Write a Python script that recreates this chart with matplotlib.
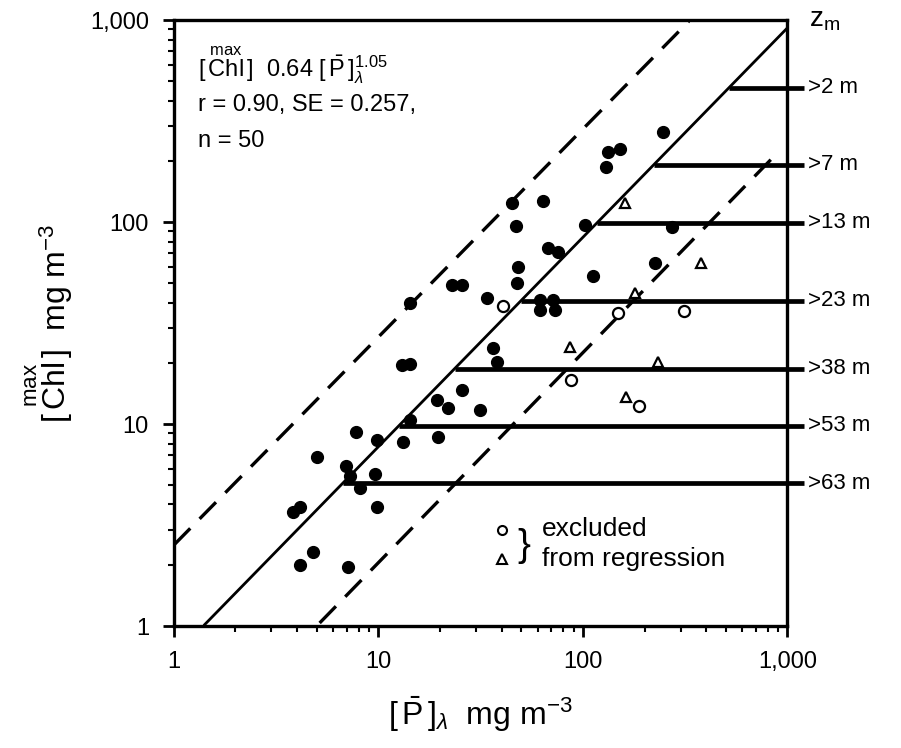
import numpy as np
import matplotlib.pyplot as plt
from matplotlib.ticker import FuncFormatter, LogLocator, NullFormatter

plt.rcParams['font.family'] = ['Liberation Sans', 'DejaVu Sans']
plt.rcParams['mathtext.fontset'] = 'custom'
plt.rcParams['mathtext.rm'] = 'Liberation Sans'
plt.rcParams['mathtext.it'] = 'Liberation Sans:italic'
plt.rcParams['mathtext.bf'] = 'Liberation Sans:bold'

# filled circles: lake data used in regression (P, Chl max), mg m-3
p_in = [3.82, 4.14, 4.14, 4.79, 5.01, 7.78, 7.11, 6.95, 7.27, 9.64, 8.13, 9.86,
        9.86, 13.2, 19.4, 21.9, 25.7, 31.5, 19.6, 13.1, 14.3, 14.3, 14.3, 245,
        133, 152, 129, 64.0, 45.1, 47.2, 67.7, 75.9, 102, 48.3, 47.7, 22.9,
        25.7, 34.0, 112, 226, 274, 61.9, 71.6, 61.9, 73.3, 36.4, 38.1]
chl_in = [3.67, 3.89, 2.01, 2.33, 6.88, 9.14, 1.96, 6.21, 5.53, 5.66, 4.83, 3.89,
          8.35, 8.16, 13.2, 12.0, 14.8, 11.8, 8.64, 19.7, 19.9, 10.5, 39.9, 281,
          223, 231, 188, 128, 125, 95.9, 74.6, 71.3, 97.1, 60.1, 50.1, 48.9,
          48.9, 42.2, 54.2, 62.9, 94.9, 41.3, 41.3, 36.8, 36.8, 23.9, 20.3]

# excluded from regression
p_circ = [40.8, 149, 313, 87.7, 187]
chl_circ = [38.5, 35.6, 36.4, 16.6, 12.3]
p_tri = [160, 376, 180, 86.7, 234, 163]
chl_tri = [125, 62.9, 44.7, 24.1, 20.3, 13.6]

# regression line and bounds as drawn: Chl = a * P^b
fit_a, fit_b = 0.71, 1.037
up_a, up_b = 2.52, 1.03
lo_a, lo_b = 0.188, 1.04

# mixing depth levels
zm_labels = ['>2 m', '>7 m', '>13 m', '>23 m', '>38 m', '>53 m', '>63 m']
zm_chl = [464, 192, 99.2, 40.9, 18.8, 9.8, 5.11]

fig = plt.figure(figsize=(9.01, 7.48), dpi=100)
ax = fig.add_axes([0.193, 0.163, 0.681, 0.810])
ax.set_xscale('log')
ax.set_yscale('log')
ax.set_xlim(1, 1000)
ax.set_ylim(1, 1000)

# regression line
p = np.logspace(0, 3, 200)
c = fit_a * p ** fit_b
m = c >= 1
ax.plot(p[m], c[m], color='black', lw=2)
# upper and lower dashed bounds
cu = up_a * p ** up_b
ax.plot(p[cu <= 1000], cu[cu <= 1000], color='black', lw=2.4, ls=(0, (7, 4)))
p2 = np.logspace(0, np.log10(900), 200)
cl = lo_a * p2 ** lo_b
ax.plot(p2[cl >= 1], cl[cl >= 1], color='black', lw=2.4, ls=(0, (7, 4)))

# horizontal z_m lines starting at regression line
for lab, cz in zip(zm_labels, zm_chl):
    p_start = (cz / fit_a) ** (1 / fit_b)
    ax.plot([p_start, 1200], [cz, cz], color='black', lw=3.4, clip_on=False,
            solid_capstyle='butt')
    ax.text(1260, cz, lab, fontsize=16, va='center', ha='left')
ax.text(1270, 1000, r'$\mathrm{z_m}$', fontsize=20, va='center', ha='left')

# data
ax.plot(p_in, chl_in, 'o', color='black', ms=8.5, clip_on=False)
ax.plot(p_circ, chl_circ, 'o', mfc='white', mec='black', mew=1.6, ms=8)
ax.plot(p_tri, chl_tri, '^', mfc='white', mec='black', mew=1.6, ms=7.5)

# legend for excluded points
ax.plot([0.535], [0.158], 'o', mfc='white', mec='black', mew=1.5, ms=6.5,
        transform=ax.transAxes)
ax.plot([0.535], [0.11], '^', mfc='white', mec='black', mew=1.5, ms=6.5,
        transform=ax.transAxes)
ax.text(0.57, 0.132, '}', fontsize=28, va='center', ha='center',
        transform=ax.transAxes)
ax.text(0.6, 0.16, 'excluded', fontsize=19, va='center', transform=ax.transAxes)
ax.text(0.6, 0.11, 'from regression', fontsize=19, va='center',
        transform=ax.transAxes)

# equation
ax.text(0.04, 0.925, r'$[\,\overset{\mathrm{max}}{\mathrm{Chl}}\,]\ \ 0.64\ [\,\bar{\mathrm{P}}\,]_{\lambda}^{1.05}$',
        fontsize=17, transform=ax.transAxes, va='center')
ax.text(0.04, 0.86, 'r = 0.90, SE = 0.257,', fontsize=17,
        transform=ax.transAxes, va='center')
ax.text(0.04, 0.80, 'n = 50', fontsize=17, transform=ax.transAxes, va='center')

ax.set_xlabel(r'$[\,\bar{\mathrm{P}}\,]_{\lambda}\ \ \mathrm{mg\ m^{-3}}$', fontsize=23,
              labelpad=16)
ax.set_ylabel(r'$[\,\overset{\mathrm{max}}{\mathrm{Chl}}\,]\ \ \mathrm{mg\ m^{-3}}$',
              fontsize=23, labelpad=10)

fmt = FuncFormatter(lambda v, pos: f'{v:,.0f}')
for axis in (ax.xaxis, ax.yaxis):
    axis.set_major_locator(LogLocator(base=10, numticks=10))
    axis.set_minor_locator(LogLocator(base=10, subs=np.arange(2, 10), numticks=10))
    axis.set_major_formatter(fmt)
    axis.set_minor_formatter(NullFormatter())
ax.tick_params(which='major', direction='out', length=8, width=2, labelsize=17,
               pad=10)
ax.tick_params(which='minor', direction='out', length=4, width=1.5)
for s in ax.spines.values():
    s.set_linewidth(2.4)

fig.savefig('out.png', dpi=100)
